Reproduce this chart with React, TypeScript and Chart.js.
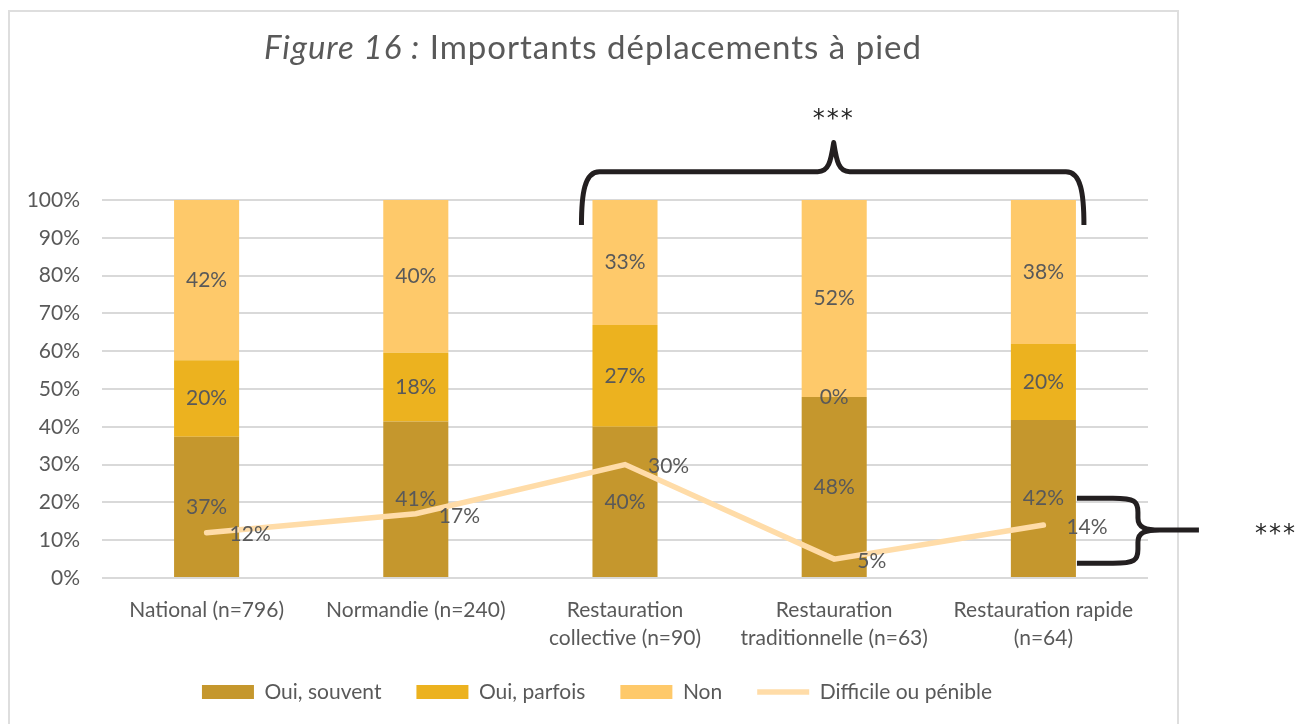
import React, { useEffect, useRef } from 'react';
import { Chart, registerables } from 'chart.js';

Chart.register(...registerables);

const categories: string[][] = [
  ['National (n=796)'],
  ['Normandie (n=240)'],
  ['Restauration', 'collective (n=90)'],
  ['Restauration', 'traditionnelle (n=63)'],
  ['Restauration rapide', '(n=64)'],
];
const ouiSouvent = [37.4, 41.4, 40.0, 47.9, 41.8];
const ouiParfois = [20.2, 18.2, 26.9, 0, 20.1];
const non = [42.4, 40.4, 33.1, 52.1, 38.1];
const difficile = [12, 17, 30, 5, 14];
const yTicks = [0, 10, 20, 30, 40, 50, 60, 70, 80, 90, 100];

const titleItalic = 'Figure 16 :';
const titleRest = ' Importants déplacements à pied';
const starsText = '***';

// brace annotation ranges (category indices / values)
const topBrace = { fromCat: 2, toCat: 4, endVal: 93.4, barVal: 107.5, peakVal: 115.2, starsVal: 122.6 };
const sideBrace = { cat: 4, topVal: 21.1, bottomVal: 3.9, midVal: 12.7 };

const FONT = 'Lato, "Open Sans", sans-serif';
const TEXT = '#595959';
const FS = 21;
const LEGEND_PAD = 35;

const labelPlugin = {
  id: 'valueLabels',
  afterDatasetsDraw(chart: any) {
    const ctx = chart.ctx;
    ctx.save();
    ctx.font = `${FS}px ${FONT}`;
    ctx.fillStyle = TEXT;
    ctx.textBaseline = 'middle';
    chart.data.datasets.forEach((ds: any, di: number) => {
      const meta = chart.getDatasetMeta(di);
      meta.data.forEach((el: any, i: number) => {
        const txt = Math.round(ds.data[i]) + '%';
        if (meta.type === 'bar') {
          const p = el.getProps(['x', 'y', 'base'], true);
          ctx.textAlign = 'center';
          ctx.fillText(txt, p.x, (p.y + p.base) / 2);
        } else {
          ctx.textAlign = 'left';
          ctx.fillText(txt, el.x + 23, el.y + 2);
        }
      });
    });
    ctx.restore();
  },
};

const legendPlacePlugin = {
  id: 'legendPlace',
  afterLayout(chart: any) {
    const lg = chart.legend;
    if (!lg) return;
    const dx = 597 - (lg.left + lg.right) / 2;
    const targetTop = 692 - LEGEND_PAD - FS / 2;
    const dy = targetTop - lg.top;
    lg.left += dx; lg.right += dx;
    lg.top += dy; lg.bottom += dy;
  },
};

const annotationPlugin = {
  id: 'annotations',
  afterDraw(chart: any) {
    const ctx = chart.ctx;
    const xs = chart.scales.x;
    const ys = chart.scales.y;
    ctx.save();
    // title
    ctx.fillStyle = TEXT;
    ctx.textBaseline = 'alphabetic';
    (ctx as any).letterSpacing = '1px';
    const fItalic = `italic 33px ${FONT}`;
    const fNormal = `33px ${FONT}`;
    ctx.font = fItalic;
    const w1 = ctx.measureText(titleItalic).width;
    ctx.font = fNormal;
    const w2 = ctx.measureText(titleRest).width;
    const cx = 593;
    const startX = cx - (w1 + w2) / 2;
    ctx.textAlign = 'left';
    ctx.font = fItalic;
    ctx.fillText(titleItalic, startX, 59);
    ctx.font = fNormal;
    ctx.fillText(titleRest, startX + w1, 59);
    (ctx as any).letterSpacing = '0px';

    // braces
    const barMeta = chart.getDatasetMeta(0);
    const half = barMeta.data[0].width / 2;
    ctx.strokeStyle = '#231f20';
    ctx.lineWidth = 5;
    ctx.lineJoin = 'round';
    ctx.lineCap = 'butt';

    const xL = xs.getPixelForValue(topBrace.fromCat) - half - 11;
    const xR = xs.getPixelForValue(topBrace.toCat) + half + 8;
    const xM = (xL + xR) / 2 + 1;
    const yEnd = ys.getPixelForValue(topBrace.endVal);
    const yBar = ys.getPixelForValue(topBrace.barVal);
    const yPeak = ys.getPixelForValue(topBrace.peakVal);
    ctx.beginPath();
    ctx.moveTo(xL, yEnd);
    ctx.bezierCurveTo(xL, yBar + 22, xL + 3, yBar, xL + 18, yBar);
    ctx.lineTo(xM - 16, yBar);
    ctx.bezierCurveTo(xM - 5, yBar, xM - 3, yBar - 10, xM, yPeak);
    ctx.bezierCurveTo(xM + 3, yBar - 10, xM + 5, yBar, xM + 16, yBar);
    ctx.lineTo(xR - 18, yBar);
    ctx.bezierCurveTo(xR - 3, yBar, xR, yBar + 22, xR, yEnd);
    ctx.stroke();

    // side brace
    const sx0 = xs.getPixelForValue(sideBrace.cat) + half + 1;
    const spine = sx0 + 61;
    const tip = sx0 + 122;
    const yT = ys.getPixelForValue(sideBrace.topVal);
    const yB = ys.getPixelForValue(sideBrace.bottomVal);
    const yMid = ys.getPixelForValue(sideBrace.midVal);
    ctx.beginPath();
    ctx.moveTo(sx0, yT);
    ctx.lineTo(spine - 25, yT);
    ctx.bezierCurveTo(spine - 3, yT, spine, yT + 3, spine, yT + 14);
    ctx.lineTo(spine, yMid - 12);
    ctx.bezierCurveTo(spine, yMid - 2, spine + 8, yMid, spine + 22, yMid);
    ctx.lineTo(tip, yMid);
    ctx.moveTo(spine + 22, yMid);
    ctx.bezierCurveTo(spine + 8, yMid, spine, yMid + 2, spine, yMid + 12);
    ctx.lineTo(spine, yB - 14);
    ctx.bezierCurveTo(spine, yB - 3, spine - 3, yB, spine - 25, yB);
    ctx.lineTo(sx0, yB);
    ctx.stroke();

    // stars
    ctx.fillStyle = '#262626';
    ctx.font = `24px "DejaVu Sans", sans-serif`;
    (ctx as any).letterSpacing = '2px';
    ctx.textAlign = 'center';
    ctx.textBaseline = 'middle';
    ctx.fillText(starsText, xM, ys.getPixelForValue(topBrace.starsVal) + 5);
    ctx.fillText(starsText, tip + 77, yMid + 5);
    ctx.restore();
  },
};

export default function App() {
  const ref = useRef<HTMLCanvasElement>(null);
  useEffect(() => {
    if (!ref.current) return;
    const chart = new Chart(ref.current, {
      type: 'bar',
      data: {
        labels: categories,
        datasets: [
          { type: 'bar', label: 'Oui, souvent', data: ouiSouvent, backgroundColor: '#C5972D', borderWidth: 0, pointStyle: 'rect', stack: 'bars' } as any,
          { type: 'bar', label: 'Oui, parfois', data: ouiParfois, backgroundColor: '#ECB21F', borderWidth: 0, pointStyle: 'rect', stack: 'bars' } as any,
          { type: 'bar', label: 'Non', data: non, backgroundColor: '#FEC96A', borderWidth: 0, pointStyle: 'rect', stack: 'bars' } as any,
          {
            type: 'line', label: 'Difficile ou pénible', data: difficile, borderColor: '#FFDCA8', backgroundColor: '#FFDCA8',
            borderWidth: 5.5, borderCapStyle: 'round', borderJoinStyle: 'miter', pointRadius: 0, pointStyle: 'line',
            tension: 0, stack: 'line', order: -1,
          } as any,
        ],
      },
      options: {
        animation: false,
        responsive: false,
        layout: { padding: { left: 20, right: 149, top: 200, bottom: 0 } },
        datasets: { bar: { categoryPercentage: 1, barPercentage: 0.311 } },
        plugins: {
          legend: {
            position: 'bottom',
            labels: {
              usePointStyle: true,
              pointStyleWidth: 52,
              boxHeight: 14,
              padding: LEGEND_PAD,
              color: TEXT,
              font: { family: FONT, size: FS, lineHeight: 1 },
              sort: (a: any, b: any) => a.datasetIndex - b.datasetIndex,
            },
          },
          tooltip: { enabled: false },
          title: { display: false },
        },
        scales: {
          x: {
            stacked: true,
            grid: { display: false, drawTicks: false },
            border: { display: false },
            ticks: { color: TEXT, font: { family: FONT, size: FS, lineHeight: '28px' } as any, padding: 18, maxRotation: 0, autoSkip: false },
            afterFit: (s: any) => { s.height = 724 - 578 - (FS + LEGEND_PAD + 10); },
          },
          y: {
            stacked: true,
            min: 0,
            max: 100,
            afterBuildTicks: (s: any) => { s.ticks = yTicks.map((v) => ({ value: v })); },
            grid: { color: '#D9D9D9', lineWidth: 2, drawTicks: false },
            border: { display: false },
            ticks: { color: TEXT, font: { family: FONT, size: FS }, padding: 22, callback: (v: any) => v + '%' },
            afterFit: (s: any) => { s.width = 82; },
          },
        },
      },
      plugins: [labelPlugin, legendPlacePlugin, annotationPlugin],
    } as any);
    return () => chart.destroy();
  }, []);

  return (
    <div style={{ position: 'absolute', left: 0, top: 0, width: 1297, height: 724, overflow: 'hidden', background: '#fff' }}>
      <div style={{ position: 'absolute', left: 8, top: 10, width: 1171, height: 800, border: '2px solid #DEDEDE', boxSizing: 'border-box' }} />
      <canvas ref={ref} width={1297} height={724} style={{ position: 'absolute', left: 0, top: 0 }} />
    </div>
  );
}
